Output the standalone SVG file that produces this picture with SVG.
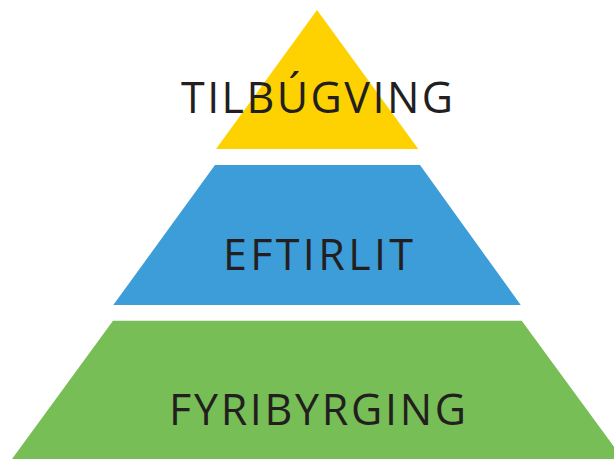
<svg xmlns="http://www.w3.org/2000/svg" width="614" height="459" viewBox="0 0 614 459">
<style>
.lbl{font-family:"Open Sans","Noto Sans","Liberation Sans",sans-serif;fill:#231f20;text-anchor:middle;font-size:43px}
</style>
<rect width="614" height="459" fill="#ffffff"/>
<g id="tilbugving">
<polygon points="317,10 418.3,149 216,149" fill="#fed100"/>
<text class="lbl" x="317" y="112.5" font-size="42" textLength="272" lengthAdjust="spacing">TILBÚGVING</text>
</g>
<g id="eftirlit">
<polygon points="215,165 420,165 520.7,305 113.3,305" fill="#3c9dd8"/>
<text class="lbl" x="318" y="269.5" font-size="44" textLength="190" lengthAdjust="spacing">EFTIRLIT</text>
</g>
<g id="fyribyrging">
<polygon points="113,320.7 521.7,320.7 623,459 12,459" fill="#76be55"/>
<text class="lbl" x="317.5" y="425" font-size="43" textLength="297" lengthAdjust="spacing">FYRIBYRGING</text>
</g>
<g id="connectors"/>
</svg>
